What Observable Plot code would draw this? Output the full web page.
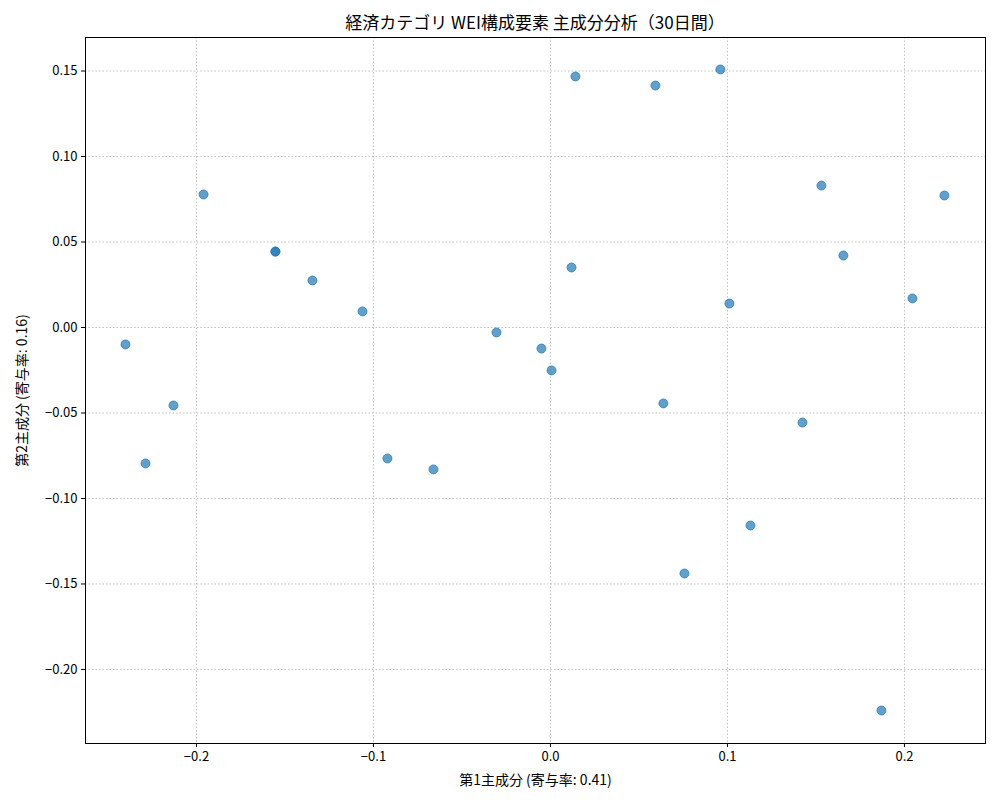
<!DOCTYPE html>
<html>
<head>
<meta charset="utf-8">
<script src="https://cdn.jsdelivr.net/npm/d3@7"></script>
<script src="https://cdn.jsdelivr.net/npm/@observablehq/plot@0.6"></script>
<style>
  body { margin: 0; background: #fff; font-family: "Noto Sans CJK JP", "Noto Sans", sans-serif; }
  #title { width: 1000px; height: 36px; box-sizing: border-box; padding-top: 11px; padding-left: 70px; line-height: 22px; font-size: 17px; text-align: center; color: #000; }
</style>
</head>
<body>
<div id="title"></div>
<div id="chart"></div>
<script>
const title = "経済カテゴリ WEI構成要素 主成分分析（30日間）";
const xLabel = "第1主成分 (寄与率: 0.41)";
const yLabel = "第2主成分 (寄与率: 0.16)";
const pc1 = [0.0141, 0.0593, 0.0960, -0.1960, -0.1554, -0.1554, -0.1345, -0.1062, -0.2401, -0.2130,
             -0.2288, -0.0921, -0.0661, -0.0305, -0.0051, 0.0006, 0.0119, 0.0638, 0.0757, 0.1011,
             0.1130, 0.1424, 0.1531, 0.1655, 0.2045, 0.2226, 0.1870];
const pc2 = [0.1468, 0.1415, 0.1509, 0.0778, 0.0444, 0.0444, 0.0275, 0.0094, -0.0099, -0.0456,
             -0.0795, -0.0766, -0.0830, -0.0029, -0.0123, -0.0251, 0.0351, -0.0444, -0.1439, 0.0140,
             -0.1158, -0.0556, 0.0830, 0.0421, 0.0170, 0.0772, -0.2240];
const xTicks = [-0.2, -0.1, 0.0, 0.1, 0.2];
const yTicks = [0.15, 0.10, 0.05, 0.00, -0.05, -0.10, -0.15, -0.20];

document.getElementById("title").textContent = title;
const data = pc1.map((x, i) => ({x, y: pc2[i]}));

const chart = Plot.plot({
  width: 1000,
  height: 764,
  marginLeft: 85,
  marginRight: 15,
  marginTop: 1,
  marginBottom: 57,
  style: {fontFamily: '"Noto Sans CJK JP", "Noto Sans", sans-serif', fontSize: "13px", color: "#000", background: "#fff"},
  x: {domain: [-0.2627, 0.2458]},
  y: {domain: [-0.2433, 0.1696]},
  marks: [
    Plot.gridX(xTicks, {stroke: "#b0b0b0", strokeOpacity: 1, strokeDasharray: "1.5,2", strokeWidth: 0.8}),
    Plot.gridY(yTicks, {stroke: "#b0b0b0", strokeOpacity: 1, strokeDasharray: "1.5,2", strokeWidth: 0.8}),
    Plot.dot(data, {x: "x", y: "y", r: 4.5, fill: "#1f77b4", fillOpacity: 0.7, stroke: "#1f77b4", strokeOpacity: 0.7, strokeWidth: 1}),
    Plot.frame({stroke: "#000", strokeWidth: 1}),
    Plot.axisX(xTicks, {tickFormat: d3.format(".1f"), tickSize: 4, tickPadding: 4, fontSize: 13, label: null}),
    Plot.axisX({label: xLabel, labelAnchor: "center", labelArrow: "none", labelOffset: 41, fontSize: 14, ticks: [], tickSize: 0}),
    Plot.axisY(yTicks, {tickFormat: d3.format(".2f"), tickSize: 4, tickPadding: 4, fontSize: 13, label: null}),
    Plot.axisY({label: yLabel, labelAnchor: "center", labelArrow: "none", labelOffset: 68, fontSize: 14, ticks: [], tickSize: 0})
  ]
});
document.getElementById("chart").appendChild(chart);
</script>
</body>
</html>
